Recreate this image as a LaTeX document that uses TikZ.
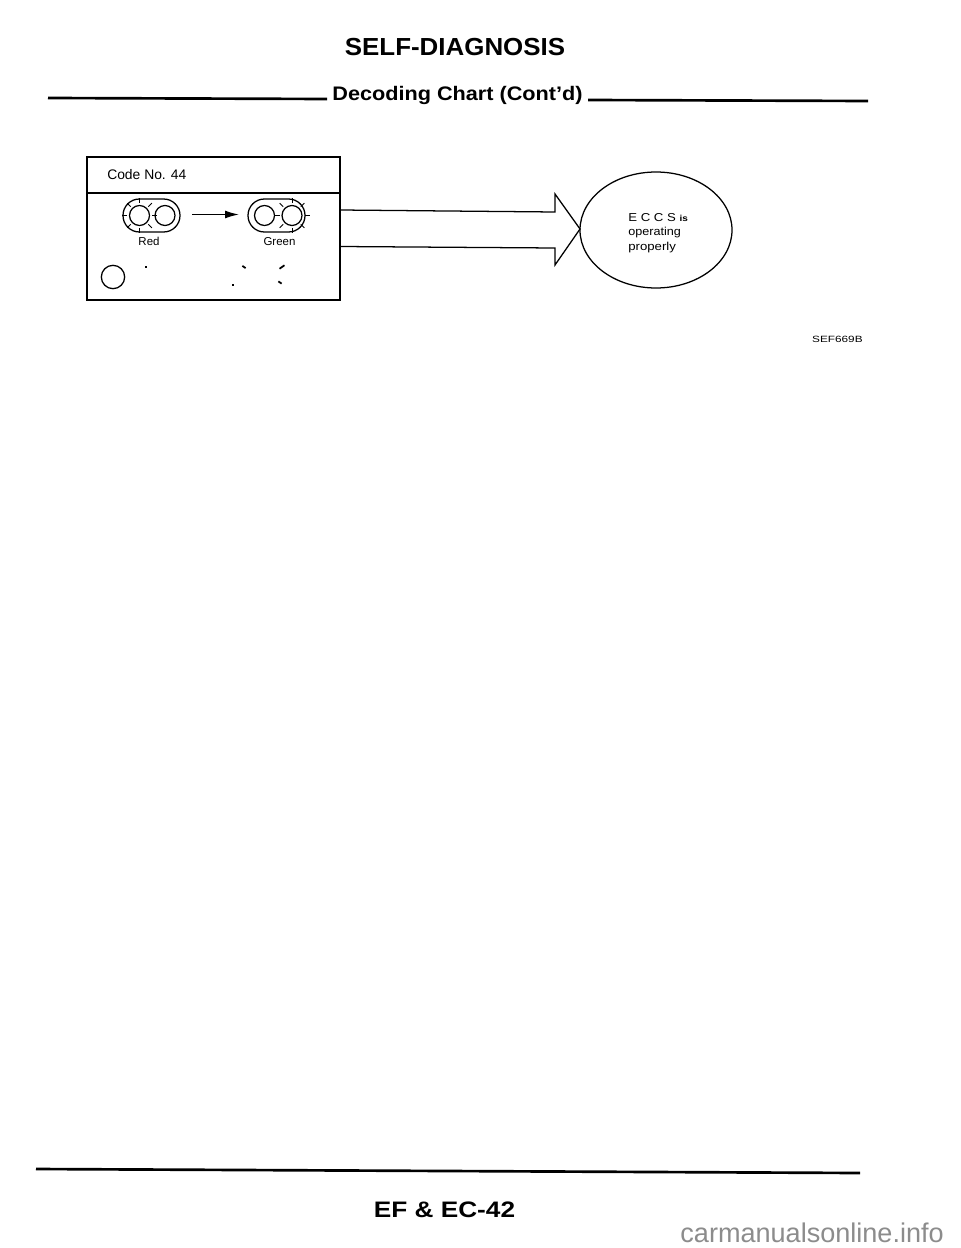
\documentclass[tikz,border=0pt]{standalone}
\usepackage{fontspec}
\setmainfont{Liberation Sans}
\usetikzlibrary{shapes.geometric,arrows.meta}
\tikzset{
  line/.style={draw=black,line width=.95pt},
  rule/.style={draw=black,line width=2pt},
  lamp/.style={circle,draw=black,line width=.95pt,inner sep=0pt,minimum size=15pt},
  pill/.style={draw=black,line width=.95pt,rounded corners=12.3pt,inner sep=0pt,minimum width=42.75pt,minimum height=24.75pt},
  ray/.style={draw=black,line width=.75pt},
  speck/.style={fill=black,rectangle,inner sep=0pt,minimum width=3pt,minimum height=1.3pt},
  txt/.style={inner sep=0pt,text=black},
}
\newcommand{\rays}[1]{\foreach \a in {0,45,...,315}{\draw[ray] (#1)++(\a:12.5)--++(\a:5);}}
\begin{document}
\begin{tikzpicture}[x=.75pt,y=-.75pt]
\useasboundingbox (0,0) rectangle (960,1248);
\fill[white] (0,0) rectangle (960,1248);
% header
\node[txt,anchor=base,font=\bfseries\fontsize{18.5}{20}\selectfont,xscale=1.05] (title) at (455,56) {SELF-DIAGNOSIS};
\node[txt,anchor=base,font=\bfseries\fontsize{14.7}{16}\selectfont,xscale=1.105] (sub) at (457.5,101) {Decoding Chart (Cont'd)};
\coordinate (hl) at (48,98); \coordinate (hr) at (868,101);
\coordinate (hle) at (327,99); \coordinate (hrs) at (588,100);
\draw[rule] (hl) -- (hle);
\draw[rule] (hrs) -- (hr);
% box
\node[line,inner sep=0pt,minimum width=189.75pt,minimum height=107.25pt] (box) at (213.5,228.5) {};
\coordinate (dl) at (87,193); \coordinate (dr) at (340,193);
\draw[line] (dl) -- (dr);
\node[txt,anchor=base west,font=\fontsize{10.4}{12}\selectfont] (code) at (107,180) {Code No. 44};
% lamps
\node[pill] (pl) at (151.5,215.5) {};
\node[lamp] (l1) at (139.5,215.5) {};
\node[lamp] (l2) at (165,215.5) {};
\rays{l1}
\node[pill] (pr) at (276.5,215.5) {};
\node[lamp] (r1) at (264.5,215.5) {};
\node[lamp] (r2) at (292,215.5) {};
\rays{r2}
\coordinate (as) at (192,214.5); \coordinate (ae) at (239,214.5);
\draw[line width=1.1pt,-{Latex[length=10.5pt,width=6pt]}] (as) -- (ae);
\node[txt,anchor=base,font=\fontsize{8.6}{10}\selectfont] (red) at (149,245) {Red};
\node[txt,anchor=base,font=\fontsize{8.6}{10}\selectfont] (green) at (279.5,245) {Green};
\node[lamp,minimum size=17.5pt] (c) at (113,277) {};
\node[speck,minimum width=2pt] (s1) at (146,267) {};
\node[speck,rotate=-35] (s2) at (244,267) {};
\node[speck,rotate=35,minimum width=4.5pt] (s3) at (282,267) {};
\node[speck,minimum width=2pt] (s4) at (233,285) {};
\node[speck,rotate=-35] (s5) at (280,282.5) {};
% block arrow
\node[draw=black,line width=.95pt,ellipse,inner sep=0pt,minimum width=114pt,minimum height=87pt] (ell) at (656,230) {};
\coordinate (a1) at (340,210); \coordinate (a2) at (555,212); \coordinate (a3) at (555,194);
\coordinate (a4) at (580,229); \coordinate (a5) at (555,265); \coordinate (a6) at (555,248); \coordinate (a7) at (340,246.5);
\draw[line] (a1) -- (a2) -- (a3) -- (a4) -- (a5) -- (a6) -- (a7);
\node[txt,anchor=base west,font=\fontsize{8.6}{9}\selectfont,xscale=1.15] (e1) at (628,222) {E C C S \fontsize{6.5}{9}\selectfont\bfseries is};
\node[txt,anchor=base west,font=\fontsize{8.6}{9}\selectfont,xscale=1.1] (e2) at (628,236) {operating};
\node[txt,anchor=base west,font=\fontsize{8.6}{9}\selectfont,xscale=1.15] (e3) at (628,250) {properly};
\node[txt,anchor=east,font=\fontsize{6.8}{8}\selectfont,xscale=1.3] (sef) at (863,339) {SEF669B};
% footer
\coordinate (fl) at (36,1169); \coordinate (fr) at (860,1173);
\draw[rule] (fl) -- (fr);
\node[txt,anchor=base,font=\bfseries\fontsize{16.8}{18}\selectfont,xscale=1.17] (foot) at (444.5,1217) {EF \& EC-42};
\node[txt,anchor=east,text=black!45,font=\fontsize{20.3}{22}\selectfont] (wm) at (944,1233) {carmanualsonline.info};
\end{tikzpicture}
\end{document}
